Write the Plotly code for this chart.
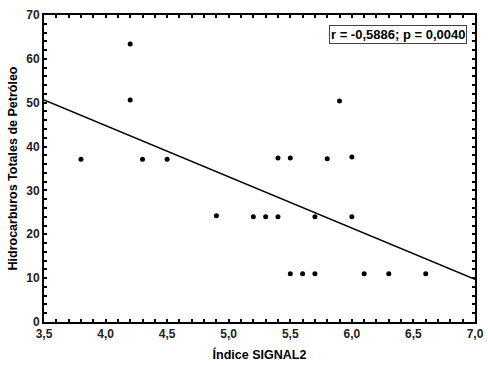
import numpy as np
import plotly.graph_objects as go

signal2 = [3.8, 4.2, 4.2, 4.3, 4.5, 4.9, 5.2, 5.3, 5.4, 5.4, 5.5, 5.5, 5.6, 5.7, 5.7,
           5.8, 5.9, 6.0, 6.0, 6.1, 6.3, 6.6]
htp = [37.1, 63.4, 50.6, 37.1, 37.1, 24.2, 24.0, 24.0, 24.0, 37.4, 11.0, 37.4, 11.0, 24.0, 11.0,
       37.2, 50.4, 24.0, 37.6, 11.0, 11.0, 11.0]
x_range = [3.5, 7.0]
annotation_text = "r = -0,5886; p = 0,0040"

slope, intercept = np.polyfit(signal2, htp, 1)
line_x = np.array(x_range)
line_y = intercept + slope * line_x

fig = go.Figure()
fig.add_trace(go.Scatter(x=line_x, y=line_y, mode="lines",
                         line=dict(color="black", width=1.5), hoverinfo="skip"))
fig.add_trace(go.Scatter(x=signal2, y=htp, mode="markers",
                         marker=dict(color="black", size=5)))

font = "Liberation Sans, Arial, sans-serif"
axis_common = dict(
    showgrid=False, zeroline=False, showline=True, linecolor="black", linewidth=2,
    mirror="allticks", ticks="inside", ticklen=3, tickwidth=1.5, tickcolor="black",
    tickfont=dict(family=font, size=12, color="#222", weight="bold"),
    automargin=False,
)
fig.update_xaxes(range=x_range, dtick=0.5, tickformat=".1f",
                 minor=dict(dtick=0.1, ticks="inside", ticklen=3, tickwidth=1.5, tickcolor="black"),
                 title=dict(text="Índice SIGNAL2", font=dict(family=font, size=12.5, color="black", weight="bold"), standoff=10),
                 **axis_common)
fig.update_yaxes(range=[0, 70], dtick=10,
                 minor=dict(dtick=2, ticks="inside", ticklen=3, tickwidth=1.5, tickcolor="black"),
                 title=dict(text="Hidrocarburos Totales de Petróleo", font=dict(family=font, size=12.5, color="black", weight="bold"), standoff=6),
                 **axis_common)
fig.add_annotation(x=1 - 8 / 431, y=1 - 10 / 307, xref="paper", yref="paper", xanchor="right", yanchor="top",
                   text=annotation_text, showarrow=False,
                   font=dict(family=font, size=13, color="black", weight="bold"),
                   bordercolor="#444", borderwidth=1, borderpad=1, bgcolor="white")
fig.update_layout(
    width=488, height=366, showlegend=False,
    margin=dict(l=44, r=13, t=15, b=44),
    plot_bgcolor="white", paper_bgcolor="white",
    separators=",.",
    font=dict(family=font, size=12, color="black"),
)
fig.write_html(
    "out.html",
    config={"displayModeBar": False, "responsive": False},
    post_script=(
        "document.documentElement.style.margin='0';"
        "document.documentElement.style.overflow='hidden';"
        "document.body.style.margin='0';"
        "document.body.style.overflow='hidden';"
    ),
)
